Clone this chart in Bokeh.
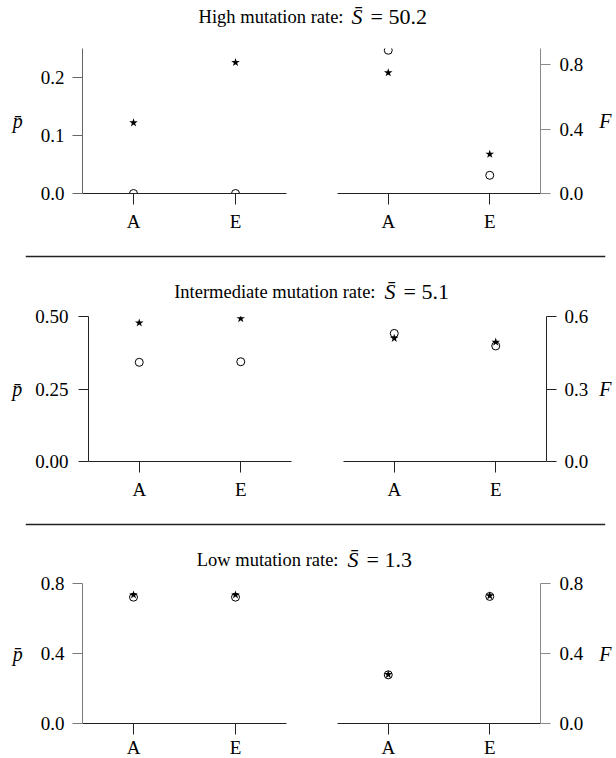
from bokeh.plotting import figure
from bokeh.layouts import column, row
from bokeh.models import (Range1d, FactorRange, FixedTicker, NumeralTickFormatter,
                          Span, ColumnDataSource)
from bokeh.core.properties import value
from bokeh.embed import file_html
from bokeh.resources import INLINE

# ---------------- data ----------------
categories = ["A", "E"]
row_titles = ["High mutation rate:", "Intermediate mutation rate:", "Low mutation rate:"]
s_bar_values = ["50.2", "5.1", "1.3"]

p_star = [[0.122, 0.226], [0.478, 0.493], [0.735, 0.735]]
p_circle = [[0.0, 0.0], [0.342, 0.344], [0.722, 0.722]]
f_star = [[0.750, 0.244], [0.510, 0.494], [0.280, 0.730]]
f_circle = [[0.889, 0.113], [0.530, 0.478], [0.278, 0.726]]

p_ymax = [0.25, 0.5, 0.8]
p_ticks = [[0.0, 0.1, 0.2], [0.0, 0.25, 0.5], [0.0, 0.4, 0.8]]
p_formats = ["0.0", "0.00", "0.0"]
f_ymax = [0.9, 0.6, 0.8]
f_ticks = [[0.0, 0.4, 0.8], [0.0, 0.3, 0.6], [0.0, 0.4, 0.8]]
f_formats = ["0.0", "0.0", "0.0"]

FONT = "Liberation Serif"
TICK_SIZE = "19px"
LABEL_SIZE = "20px"
TITLE_SIZE = "18.5px"
MATH_SIZE = "22px"
W = 616


def panel(side, ymax, ticks, fmt, star, circ, label, geo):
    kw = dict(x_range=FactorRange(factors=categories, range_padding=0),
              y_range=Range1d(0, ymax),
              frame_width=geo["fw"],
              min_border_left=geo["mbl"], min_border_right=geo["mbr"],
              min_border_top=12, min_border_bottom=geo["mbb"],
              y_axis_location=side, output_backend="svg", toolbar_location=None)
    if "fh" in geo:
        kw["frame_height"] = geo["fh"]
    else:
        kw["height"] = geo["h"]
    p = figure(**kw)
    p.outline_line_color = None
    p.grid.visible = False
    p.background_fill_color = "white"
    p.border_fill_color = "white"

    xa = p.xaxis[0]
    xa.axis_line_color = "#222222"
    xa.axis_line_width = 1
    xa.major_tick_line_color = "#222222"
    xa.major_tick_out = 11
    xa.major_tick_in = 0
    xa.minor_tick_out = 0
    xa.major_label_standoff = geo["xstand"]
    xa.major_label_text_font = FONT
    xa.major_label_text_font_size = TICK_SIZE
    xa.major_label_text_color = "black"

    ya = p.yaxis[0]
    ya.ticker = FixedTicker(ticks=ticks, minor_ticks=[])
    ya.formatter = NumeralTickFormatter(format=fmt)
    ya.axis_line_color = geo["ycol"]
    ya.major_tick_line_color = geo["ycol"]
    ya.axis_line_width = 1
    ya.major_tick_out = 10
    ya.major_tick_in = 0
    ya.minor_tick_out = 0
    ya.minor_tick_in = 0
    ya.major_label_standoff = geo["ystand"]
    ya.major_label_text_font = FONT
    ya.major_label_text_font_size = TICK_SIZE
    ya.major_label_text_color = "black"
    ya.axis_label = label
    ya.axis_label_orientation = "horizontal"
    ya.axis_label_standoff = geo["lstand"]
    ya.axis_label_text_font = FONT
    ya.axis_label_text_font_style = "italic"
    ya.axis_label_text_font_size = LABEL_SIZE
    ya.axis_label_text_color = "black"

    src = ColumnDataSource(dict(x=categories, star=star, circ=circ))
    p.scatter("x", "circ", source=src, marker="circle", size=8,
              fill_color=None, line_color="black", line_width=1)
    p.scatter("x", "star", source=src, marker="star", size=9,
              fill_color="black", line_color=None)
    return p


def spacer(height, idx, title_y, px, sx, ex, sep_y=None):
    # frame spans page x 25..605 so the separator Span runs across that width
    s = figure(width=W, height=height, x_range=Range1d(25, 605), y_range=Range1d(height, 0),
               min_border_left=25, min_border_right=11, min_border_top=0, min_border_bottom=0,
               x_axis_location=None, y_axis_location=None,
               output_backend="svg", toolbar_location=None)
    s.outline_line_color = None
    s.grid.visible = False
    if sep_y is not None:
        s.add_layout(Span(location=sep_y, dimension="width", line_color="#222222", line_width=1.3))
    s.text(x=[px], y=[title_y], text=[row_titles[idx]],
           text_font=value(FONT), text_font_size=TITLE_SIZE, text_align="right",
           text_baseline="middle", text_color="black")
    s.text(x=[sx], y=[title_y], text=["S\u0304"],
           text_font=value(FONT), text_font_style="italic", text_font_size=MATH_SIZE,
           text_align="left", text_baseline="middle", text_color="black")
    s.text(x=[ex], y=[title_y], text=["= " + s_bar_values[idx]],
           text_font=value(FONT), text_font_size=MATH_SIZE, text_align="left",
           text_baseline="middle", text_color="black")
    return s


geo_rows = [
    (dict(fw=204, fh=145, mbl=82, mbr=25, mbb=40, xstand=6, ystand=8, lstand=15, ycol="#666666"),
     dict(fw=203, fh=145, mbl=26, mbr=76, mbb=40, xstand=6, ystand=9, lstand=13, ycol="#8a8a8a")),
    (dict(fw=203, fh=145, mbl=88, mbr=25, mbb=40, xstand=6, ystand=10, lstand=10, ycol="#222222"),
     dict(fw=203, fh=145, mbl=27, mbr=70, mbb=40, xstand=6, ystand=8, lstand=8, ycol="#222222")),
    (dict(fw=204, h=189, mbl=82, mbr=25, mbb=0, xstand=2, ystand=8, lstand=15, ycol="#7a7a7a"),
     dict(fw=203, h=189, mbl=26, mbr=76, mbb=0, xstand=2, ystand=9, lstand=13, ycol="#8a8a8a")),
]

# page chain: title 0-36, row1 36-233 (frame 48-193), spacer 233-303,
# row2 303-500 (frame 315-460), spacer 500-569, row3 569-758 (frame from 581)
items = [spacer(36, 0, 16, 343, 351, 370)]
for i in range(3):
    gl, gr = geo_rows[i]
    left = panel("left", p_ymax[i], p_ticks[i], p_formats[i], p_star[i], p_circle[i], "p\u0304", gl)
    right = panel("right", f_ymax[i], f_ticks[i], f_formats[i], f_star[i], f_circle[i], "F", gr)
    items.append(row(left, right, spacing=0))
    if i == 0:
        items.append(spacer(70, 1, 290 - 233, 375, 384, 403, sep_y=255 - 233))
    elif i == 1:
        items.append(spacer(69, 2, 557 - 500, 338, 347, 366, sep_y=522 - 500))

layout = column(*items, spacing=0)

open("out.html", "w").write(file_html(layout, INLINE))
